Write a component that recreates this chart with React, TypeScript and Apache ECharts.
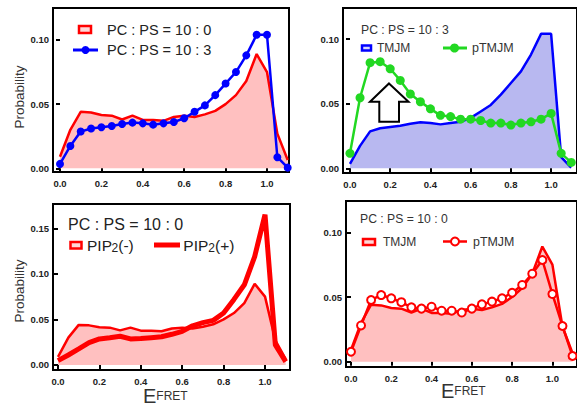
import React, { useEffect, useRef } from "react";
import * as echarts from "echarts";

// E_FRET bins
const EFRET = [0, 0.05, 0.1, 0.15, 0.2, 0.25, 0.3, 0.35, 0.4, 0.45, 0.5, 0.55, 0.6, 0.65, 0.7, 0.75, 0.8, 0.85, 0.9, 0.95, 1.0, 1.05, 1.1];

// PC:PS = 10:0 (TMJM, PIP2(-))
const PS0_TMJM = [0.009, 0.030, 0.044, 0.0435, 0.0415, 0.041, 0.038, 0.041, 0.0377, 0.0377, 0.037, 0.040, 0.041, 0.040, 0.042, 0.0447, 0.050, 0.057, 0.068, 0.089, 0.075, 0.027, 0.0065];
// PC:PS = 10:3 (TMJM)
const PS3_TMJM = [0.0034, 0.0174, 0.0286, 0.031, 0.032, 0.033, 0.0345, 0.0356, 0.035, 0.034, 0.035, 0.036, 0.039, 0.044, 0.049, 0.057, 0.066, 0.075, 0.088, 0.104, 0.104, 0.0086, 0.0005];
// pTMJM at PC:PS = 10:3
const PS3_PTMJM = [0.0116, 0.0546, 0.0817, 0.0825, 0.077, 0.068, 0.0575, 0.0515, 0.046, 0.041, 0.040, 0.038, 0.038, 0.037, 0.035, 0.035, 0.0335, 0.035, 0.036, 0.038, 0.0425, 0.0116, 0.0046];
// PIP2(+) at PC:PS = 10:0
const PIP2_PLUS = [0.0048, 0.011, 0.0176, 0.0245, 0.0286, 0.030, 0.0315, 0.0286, 0.029, 0.030, 0.031, 0.0337, 0.037, 0.043, 0.0465, 0.049, 0.057, 0.072, 0.088, 0.119, 0.165, 0.022, 0.0037];
// pTMJM at PC:PS = 10:0
const PS0_PTMJM = [0.0077, 0.028, 0.0477, 0.0515, 0.049, 0.046, 0.042, 0.041, 0.0425, 0.0394, 0.0394, 0.038, 0.041, 0.0443, 0.0464, 0.049, 0.0533, 0.0593, 0.068, 0.0786, 0.0523, 0.0276, 0.0044];

const X_TICKS = [0, 0.2, 0.4, 0.6, 0.8, 1.0];
const Y_TICKS_A = [0, 0.05, 0.1];
const Y_TICKS_B = [0, 0.05, 0.1, 0.15];

const FONT = "Liberation Sans, Arial, sans-serif";
const RED = "#ff0000";
const PINK = "#ffc0c0";
const BLUE = "#0000ff";
const LAVENDER = "#b8b8f0";
const GREEN = "#22d822";

const pts = (arr: number[]) => EFRET.map((x, i) => [x, arr[i]]);

function axes(gi: number, xmin: number, xmax: number, ymin: number, ymax: number, yTicks: number[]) {
  const tick = { color: "#000", width: 2 };
  const lbl = { fontSize: 9.5, fontWeight: "bold", color: "#222", fontFamily: FONT };
  const xs = [
    {
      gridIndex: gi, type: "value", min: xmin, max: xmax, position: "bottom",
      axisLine: { show: false }, splitLine: { show: false },
      axisTick: { show: true, inside: false, length: 3, lineStyle: tick, customValues: X_TICKS },
      axisLabel: { ...lbl, margin: 6, customValues: X_TICKS, formatter: (v: number) => v.toFixed(1) },
    },
    {
      gridIndex: gi, type: "value", min: xmin, max: xmax, position: "top",
      axisLine: { show: false }, splitLine: { show: false },
      axisTick: { show: true, inside: true, length: 4, lineStyle: tick, customValues: X_TICKS },
      axisLabel: { show: false },
    },
  ];
  const ys = [
    {
      gridIndex: gi, type: "value", min: ymin, max: ymax, position: "left",
      axisLine: { show: false }, splitLine: { show: false },
      axisTick: { show: true, inside: false, length: 3, lineStyle: tick, customValues: yTicks },
      axisLabel: { ...lbl, margin: 4, customValues: yTicks, formatter: (v: number) => v.toFixed(2) },
    },
    {
      gridIndex: gi, type: "value", min: ymin, max: ymax, position: "right",
      axisLine: { show: false }, splitLine: { show: false },
      axisTick: { show: true, inside: true, length: 4, lineStyle: tick, customValues: yTicks },
      axisLabel: { show: false },
    },
  ];
  return { xs, ys };
}

function areaSeries(name: string, gi: number, data: number[], line: string, fill: string) {
  return {
    name, type: "line", xAxisIndex: gi * 2, yAxisIndex: gi * 2, data: pts(data),
    symbol: "none", lineStyle: { color: line, width: 2.5 }, itemStyle: { color: line },
    areaStyle: { color: fill, opacity: 1 }, z: 2,
  };
}

function markerSeries(name: string, gi: number, data: number[], color: string, symbol: string, size: number) {
  return {
    name, type: "line", xAxisIndex: gi * 2, yAxisIndex: gi * 2, data: pts(data),
    symbol, symbolSize: size, showSymbol: true,
    lineStyle: { color, width: 2.5 },
    itemStyle: symbol === "emptyCircle" ? { color, borderColor: color, borderWidth: 2 } : { color },
    z: 3,
  };
}

function txt(x: number, y: number, text: string, fontSize: number, extra: any = {}) {
  return {
    type: "text", x, y, z: 10,
    style: { text, fontSize, fontFamily: FONT, fill: "#222", verticalAlign: "middle", align: "left", ...extra },
  };
}
function rectIcon(x: number, y: number, w: number, h: number, stroke: string, fill: string) {
  return { type: "rect", z: 10, shape: { x, y, width: w, height: h }, style: { stroke, fill, lineWidth: 2.5 } };
}
function lineIcon(x1: number, x2: number, y: number, color: string, width: number) {
  return { type: "line", z: 10, shape: { x1, y1: y, x2, y2: y }, style: { stroke: color, lineWidth: width } };
}
function dot(cx: number, cy: number, r: number, color: string, hollow = false) {
  return {
    type: "circle", z: 11, shape: { cx, cy, r },
    style: hollow ? { fill: "#fff", stroke: color, lineWidth: 2 } : { fill: color },
  };
}

export default function App() {
  const ref = useRef<HTMLDivElement>(null);
  useEffect(() => {
    if (!ref.current) return;
    const chart = echarts.init(ref.current, null, { renderer: "svg" });

    const a0 = axes(0, -0.0338, 1.1063, -0.0029, 0.1249, Y_TICKS_A);
    const a1 = axes(1, -0.0347, 1.1287, -0.0036, 0.124, Y_TICKS_A);
    const a2 = axes(2, -0.0242, 1.1207, -0.0055, 0.1767, Y_TICKS_B);
    const a3 = axes(3, -0.0247, 1.1221, -0.0041, 0.1242, Y_TICKS_A);

    const gridBase = { show: true, borderColor: "#000", borderWidth: 2, backgroundColor: "transparent" };

    const efret = (x: number, y: number) => ({
      type: "text", x, y, z: 10,
      style: {
        text: "{e|E}{s|FRET}", fontFamily: FONT, verticalAlign: "bottom", align: "left",
        rich: { e: { fontSize: 20, fill: "#333", fontFamily: FONT }, s: { fontSize: 12, fill: "#333", fontFamily: FONT } },
      },
    });

    const ylab = (x: number, y: number) => ({
      ...txt(x, y, "Probability", 13.5, { align: "center", fill: "#333" }),
      rotation: Math.PI / 2,
    });

    const option: any = {
      animation: false,
      backgroundColor: "#fff",
      grid: [
        { ...gridBase, left: 53, top: 8, width: 236, height: 164 },
        { ...gridBase, left: 343, top: 8, width: 235, height: 165 },
        { ...gridBase, left: 53, top: 204, width: 237, height: 166 },
        { ...gridBase, left: 346, top: 201, width: 232, height: 166 },
      ],
      xAxis: [...a0.xs, ...a1.xs, ...a2.xs, ...a3.xs],
      yAxis: [...a0.ys, ...a1.ys, ...a2.ys, ...a3.ys],
      series: [
        areaSeries("PC : PS = 10 : 0", 0, PS0_TMJM, RED, PINK),
        markerSeries("PC : PS = 10 : 3", 0, PS3_TMJM, BLUE, "circle", 8),
        areaSeries("TMJM (10:3)", 1, PS3_TMJM, BLUE, LAVENDER),
        markerSeries("pTMJM (10:3)", 1, PS3_PTMJM, GREEN, "circle", 9),
        areaSeries("PIP2(-)", 2, PS0_TMJM, RED, PINK),
        {
          name: "PIP2(+)", type: "line", xAxisIndex: 4, yAxisIndex: 4, data: pts(PIP2_PLUS),
          symbol: "none", lineStyle: { color: RED, width: 5 }, itemStyle: { color: RED }, z: 3,
        },
        areaSeries("TMJM (10:0)", 3, PS0_TMJM, RED, PINK),
        markerSeries("pTMJM (10:0)", 3, PS0_PTMJM, RED, "emptyCircle", 8),
      ],
      graphic: [
        ylab(19, 97),
        ylab(19, 291),
        efret(143, 406),
        efret(441, 401),
        // TL legend
        rectIcon(79, 26, 12, 7, RED, "#ffd6d6"),
        txt(107, 29.5, "PC : PS = 10 : 0", 14.5),
        lineIcon(73, 98, 50, BLUE, 3),
        dot(85.5, 50, 4, BLUE),
        txt(107, 50, "PC : PS = 10 : 3", 14.5),
        // TR legend
        txt(361, 29.5, "PC : PS = 10 : 3", 12.2, { fill: "#333" }),
        rectIcon(362, 45.5, 9, 5, BLUE, "#d6d6ff"),
        txt(377, 48, "TMJM", 12, { fill: "#333" }),
        lineIcon(443, 467, 48, GREEN, 3),
        dot(454.5, 48, 4.5, GREEN),
        txt(472, 48, "pTMJM", 12.5, { fill: "#333" }),
        // arrow
        {
          type: "polygon", z: 10,
          shape: { points: [[389, 83.5], [408.5, 101.7], [399, 101.7], [399, 121.7], [379.3, 121.7], [379.3, 101.7], [370, 101.7]] },
          style: { fill: "#fff", stroke: "#000", lineWidth: 2 },
        },
        // BL legend
        txt(68, 224, "PC : PS = 10 : 0", 16),
        rectIcon(70.5, 242, 11, 6.5, RED, "#ffd6d6"),
        txt(87, 245.5, "PIP", 15.5),
        txt(111.5, 247.5, "2", 12),
        txt(118.3, 245.5, "(-)", 15.5),
        lineIcon(154, 180, 245, RED, 5),
        txt(183.3, 245.5, "PIP", 15.5),
        txt(208.3, 247.5, "2", 12),
        txt(215, 245.5, "(+)", 15.5),
        // BR legend
        txt(360, 219, "PC : PS = 10 : 0", 12.2, { fill: "#333" }),
        rectIcon(363, 239, 12, 6, RED, "#ffd6d6"),
        txt(383, 241.5, "TMJM", 12, { fill: "#333" }),
        lineIcon(443, 467, 241.5, RED, 2.5),
        dot(455, 241.5, 4, RED, true),
        txt(473, 241.5, "pTMJM", 12.4, { fill: "#333" }),
      ],
    };

    chart.setOption(option);
    return () => chart.dispose();
  }, []);

  return (
    <div
      ref={ref}
      style={{ position: "absolute", left: 0, top: 0, width: 577, height: 408, background: "#fff" }}
    />
  );
}
